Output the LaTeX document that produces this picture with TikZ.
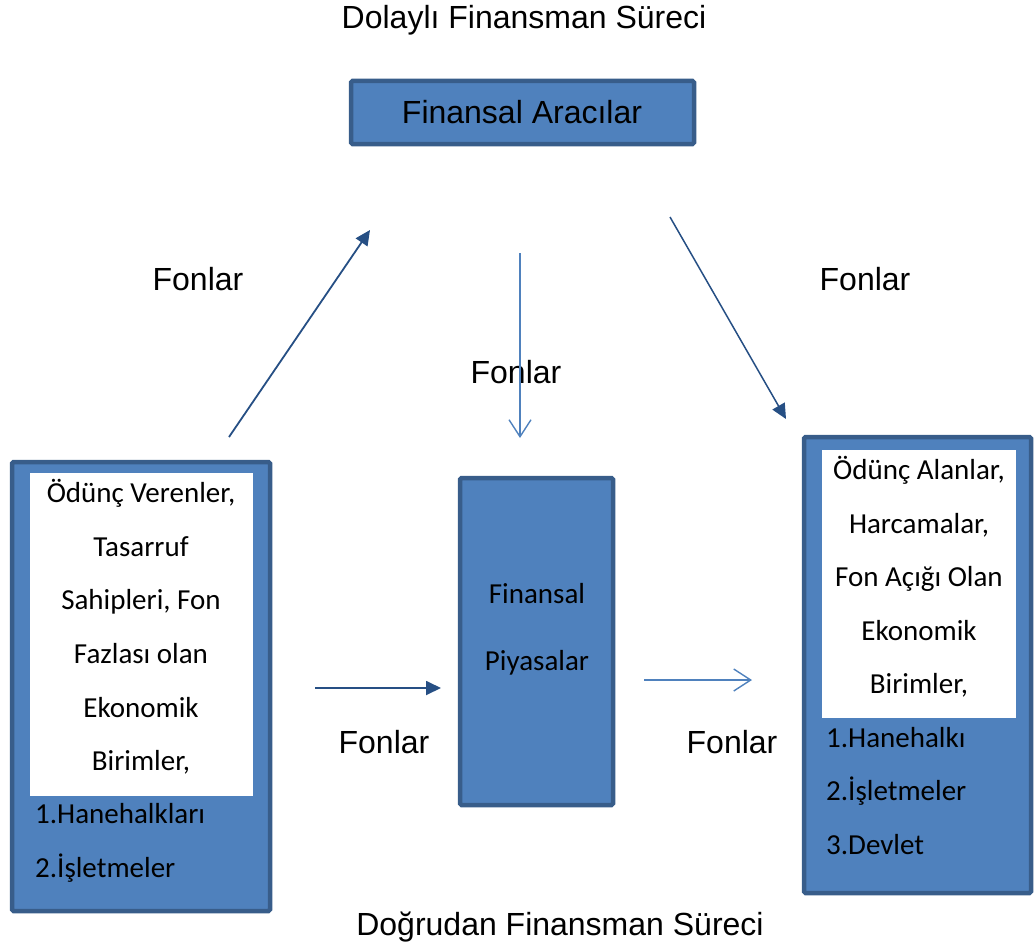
\documentclass[tikz,border=0pt]{standalone}
\usepackage{fontspec}
\setmainfont{Liberation Sans}
\newfontfamily\boxfont{Carlito}
\usetikzlibrary{arrows.meta}
\definecolor{boxfill}{HTML}{4F81BD}
\definecolor{boxline}{HTML}{385D8A}
\definecolor{darkarrow}{HTML}{264F84}
\definecolor{lightarrow}{HTML}{4F81BD}
\tikzset{
  x=1pt, y=-1pt,
  bluebox/.style={draw=boxline, line width=4.5pt, fill=boxfill, rounded corners=1.5pt},
  whitebox/.style={fill=white, draw=none},
  caption/.style={font=\fontsize{32}{38}\selectfont, inner sep=0pt},
  boxtext/.style={font=\boxfont\fontsize{29}{53.6}\selectfont, align=center, inner sep=0pt},
  listtext/.style={font=\boxfont\fontsize{29}{53.6}\selectfont, align=left, inner sep=0pt, anchor=west},
  solidarrow/.style={draw=darkarrow, line width=1.8pt, -{Triangle[length=15pt,width=14pt]}},
  openarrow/.style={draw=lightarrow, line width=1.4pt, -{Straight Barb[length=17pt,width=22pt,line width=1.4pt]}}
}
\begin{document}
\begin{tikzpicture}
\useasboundingbox (0,0) rectangle (1035,947);

% headings
\node[caption] (topTitle) at (524,20) {Dolaylı Finansman Süreci};
\node[caption] (bottomTitle) at (560,927) {Doğrudan Finansman Süreci};

% financial intermediaries
\draw[bluebox] (351,81) rectangle (694,144);
\node[caption] (aracilar) at (522,112) {Finansal Aracılar};

% lenders
\draw[bluebox] (12,462) rectangle (270,911);
\fill[whitebox] (30,473) rectangle (253,796);
\node[boxtext] (lenders) at (141,627) {Ödünç Verenler,\\Tasarruf\\Sahipleri, Fon\\Fazlası olan\\Ekonomik\\Birimler,};
\node[listtext] (lenderList) at (35,843) {1.Hanehalkları\\2.İşletmeler};

% financial markets
\draw[bluebox] (460,478) rectangle (613,805);
\node[boxtext, font=\boxfont\fontsize{29}{67}\selectfont] (markets) at (537,629) {Finansal\\Piyasalar};

% borrowers
\draw[bluebox] (804,437) rectangle (1031,893);
\fill[whitebox] (822,450) rectangle (1016,718);
\node[boxtext] (borrowers) at (919,577) {Ödünç Alanlar,\\Harcamalar,\\Fon Açığı Olan\\Ekonomik\\Birimler,};
\node[listtext] (borrowerList) at (826,791) {1.Hanehalkı\\2.İşletmeler\\3.Devlet};

% flow labels
\node[caption] (fonUL) at (198,279) {Fonlar};
\node[caption] (fonUR) at (865,279) {Fonlar};
\node[caption] (fonMid) at (516,372) {Fonlar};
\node[caption] (fonBL) at (384,742) {Fonlar};
\node[caption] (fonBR) at (732,742) {Fonlar};

% arrow end points
\coordinate (a1s) at (229,437);
\coordinate (a1e) at (370,230);
\coordinate (a2s) at (520,253);
\coordinate (a2e) at (520,438);
\coordinate (a3s) at (670,217);
\coordinate (a3e) at (786,419);
\coordinate (a4s) at (315,688);
\coordinate (a4e) at (441,688);
\coordinate (a5s) at (644,680);
\coordinate (a5e) at (752,680);

\draw[solidarrow] (a1s) -- (a1e);
\draw[openarrow] (a2s) -- (a2e);
\draw[solidarrow, line width=1.5pt] (a3s) -- (a3e);
\draw[solidarrow] (a4s) -- (a4e);
\draw[openarrow] (a5s) -- (a5e);
\end{tikzpicture}
\end{document}
